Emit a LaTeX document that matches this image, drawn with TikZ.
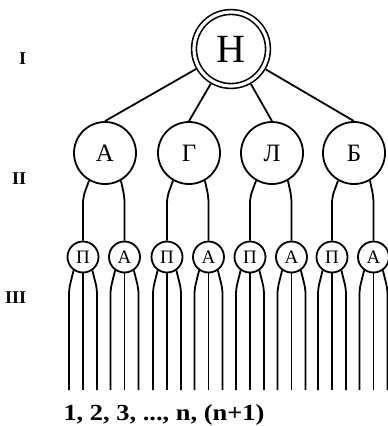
\documentclass[tikz,border=0pt]{standalone}
\usepackage{fontspec}
\setmainfont{Liberation Serif}
\usepackage{graphicx}
\usetikzlibrary{calc}

\begin{document}
\begin{tikzpicture}[x=1pt,y=-1pt,line width=1.8pt,
  root/.style={circle,draw,double,double distance=3.2pt,line width=1.6pt,minimum size=74pt,inner sep=0pt,outer sep=3.2pt,font=\fontsize{40}{40}\selectfont},
  branch/.style={circle,draw,minimum size=62pt,inner sep=0pt,font=\fontsize{25}{25}\selectfont},
  leaf/.style={circle,draw,minimum size=31pt,inner sep=0pt,font=\fontsize{19}{19}\selectfont},
  level/.style={anchor=east,inner sep=0pt,font=\fontsize{18}{18}\selectfont\bfseries}]
\useasboundingbox (0,0) rectangle (388,426);
\node[level] (lvlI) at (27,59) {I};
\node[level] (lvlII) at (27,179) {II};
\node[level] (lvlIII) at (27,298) {III};
\node[root] (H) at (231,49) {Н};
\foreach \n/\x/\t in {a/105/А,g/189/Г,l/272/Л,b/354/Б}{
  \node[branch] (\n) at (\x,153) {\t};
  \node[leaf] (\n1) at (\x-22,257) {П};
  \node[leaf] (\n2) at (\x+19.5,257) {А};
  \draw (H) -- (\n.north);
  \draw[rounded corners=6pt] (\n.240) -- (\n1.north |- 0,197) -- (\n1.north);
  \draw[rounded corners=6pt] (\n.300) -- (\n2.north |- 0,197) -- (\n2.north);
  \foreach \s in {\n1,\n2}{
    \draw[rounded corners=5pt] (\s.235) -- ($(\s)+(-14,32)$) -- ($(\s)+(-14,133)$);
    \draw (\s.south) -- ($(\s)+(0,133)$);
    \draw[rounded corners=5pt] (\s.305) -- ($(\s)+(14,32)$) -- ($(\s)+(14,133)$);
  }
}
\node[inner sep=0pt,font=\fontsize{23}{23}\selectfont\bfseries] (nums) at (164,415) {\scalebox{1.15}[1]{1, 2, 3, ..., n, (n+1)}};
\end{tikzpicture}
\end{document}
